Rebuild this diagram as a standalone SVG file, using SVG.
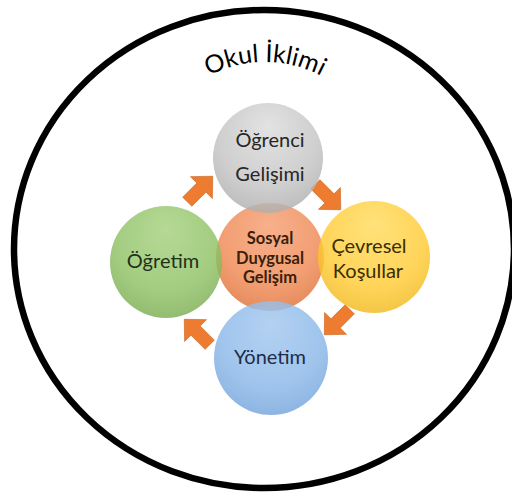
<svg xmlns="http://www.w3.org/2000/svg" width="512" height="493" viewBox="0 0 512 493">
  <defs>
    <radialGradient id="gGray" cx="50%" cy="35%" r="65%" fx="50%" fy="20%">
      <stop offset="0" stop-color="#DCDCDC"/>
      <stop offset="0.7" stop-color="#C4C4C4"/>
      <stop offset="1" stop-color="#AFAFAF"/>
    </radialGradient>
    <radialGradient id="gOrange" cx="50%" cy="35%" r="65%" fx="50%" fy="20%">
      <stop offset="0" stop-color="#F7B08C"/>
      <stop offset="0.7" stop-color="#F29E72"/>
      <stop offset="1" stop-color="#E58C5E"/>
    </radialGradient>
    <radialGradient id="gGreen" cx="50%" cy="35%" r="65%" fx="50%" fy="20%">
      <stop offset="0" stop-color="#A6D17E"/>
      <stop offset="0.7" stop-color="#8FC165"/>
      <stop offset="1" stop-color="#7BAE52"/>
    </radialGradient>
    <radialGradient id="gYellow" cx="50%" cy="35%" r="65%" fx="50%" fy="20%">
      <stop offset="0" stop-color="#FFDC5E"/>
      <stop offset="0.7" stop-color="#FFCB35"/>
      <stop offset="1" stop-color="#F2BA1E"/>
    </radialGradient>
    <radialGradient id="gBlue" cx="50%" cy="35%" r="65%" fx="50%" fy="20%">
      <stop offset="0" stop-color="#A3C8EF"/>
      <stop offset="0.7" stop-color="#8AB7E8"/>
      <stop offset="1" stop-color="#75A5DC"/>
    </radialGradient>
    <path id="arrow" d="M -18 -6.5 L 2 -6.5 L 2 -15.5 L 18 0 L 2 15.5 L 2 6.5 L -18 6.5 Z"/>
    <path id="arcPath" d="M 145 182 A 120 120 0 0 1 385 182"/>
  </defs>
  <style>
    .outer { fill: #FFFFFF; stroke: #000000; stroke-width: 6.5; }
    .title { font-family: Lato, "Open Sans", sans-serif; font-size: 25px; fill: #000000; }
    .lbl { font-family: Lato, "Open Sans", sans-serif; font-size: 20px; text-anchor: middle; }
    .ctr { font-family: Lato, "Open Sans", sans-serif; font-size: 16.5px; font-weight: bold; text-anchor: middle; fill: #3A1E0A; }
    .arr { fill: #ED7B30; stroke: #C8641F; stroke-width: 0.6; }
    .bub { opacity: 0.82; }
  </style>
  <rect x="0" y="0" width="512" height="493" fill="#FFFFFF"/>
  <g id="okul-iklimi">
    <ellipse class="outer" cx="264" cy="249" rx="250" ry="239"/>
    <text class="title"><textPath href="#arcPath" startOffset="50%" text-anchor="middle">Okul İklimi</textPath></text>
  </g>
  <g id="connectors">
    <use href="#arrow" class="arr" transform="translate(200,189) rotate(-45)"/>
    <use href="#arrow" class="arr" transform="translate(328,197) rotate(45)"/>
    <use href="#arrow" class="arr" transform="translate(337,322) rotate(135)"/>
    <use href="#arrow" class="arr" transform="translate(197,332) rotate(-135)"/>
  </g>
  <g id="sosyal-duygusal">
    <circle cx="270" cy="257" r="54" fill="url(#gOrange)"/>
  </g>
  <g id="ogrenci-gelisimi">
    <circle class="bub" cx="268" cy="158" r="55" fill="url(#gGray)"/>
    <text class="lbl" x="270" y="147" fill="#262626">Öğrenci</text>
    <text class="lbl" x="270" y="181" fill="#262626">Gelişimi</text>
  </g>
  <g id="ogretim">
    <circle class="bub" cx="166" cy="262" r="56" fill="url(#gGreen)"/>
    <text class="lbl" x="163" y="268" fill="#1E321A">Öğretim</text>
  </g>
  <g id="cevresel-kosullar">
    <circle class="bub" cx="374" cy="257" r="56" fill="url(#gYellow)"/>
    <text class="lbl" x="369" y="253" fill="#3A2E00">Çevresel</text>
    <text class="lbl" x="368" y="278" fill="#3A2E00">Koşullar</text>
  </g>
  <g id="yonetim">
    <circle class="bub" cx="271" cy="358" r="57" fill="url(#gBlue)"/>
    <text class="lbl" x="270" y="364" fill="#1E2C48">Yönetim</text>
  </g>
  <g id="sosyal-duygusal-label">
    <text class="ctr" x="270" y="244">Sosyal</text>
    <text class="ctr" x="270" y="264">Duygusal</text>
    <text class="ctr" x="270" y="283">Gelişim</text>
  </g>
</svg>
